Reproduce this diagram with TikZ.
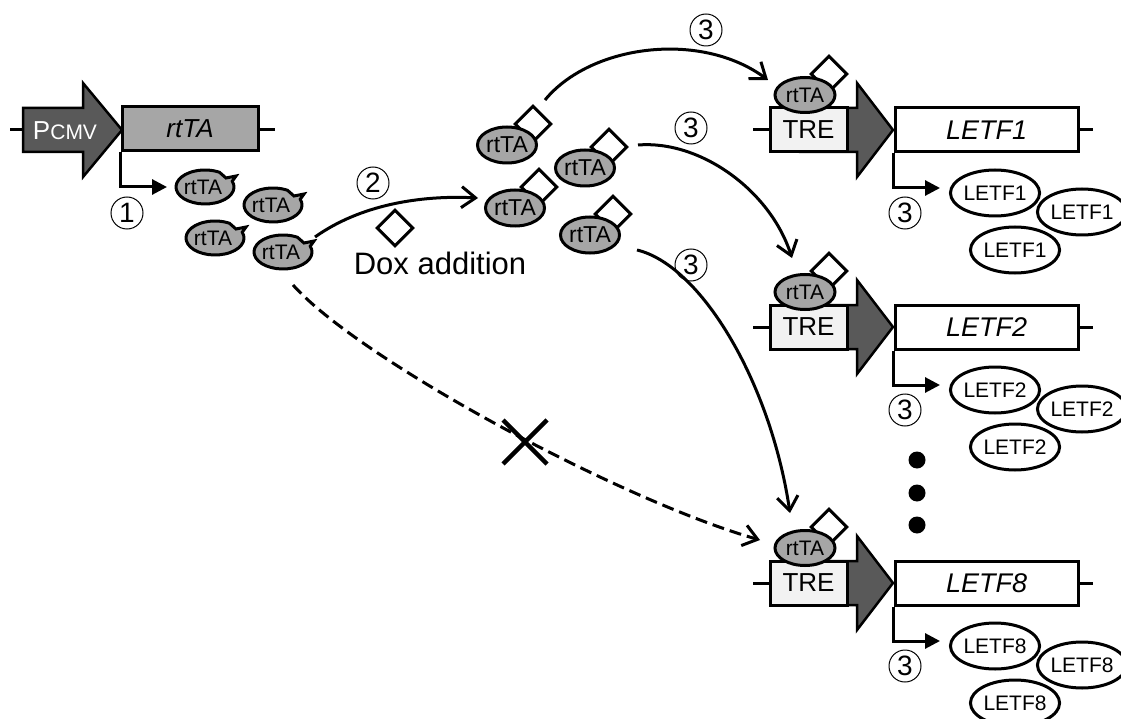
\documentclass[tikz,border=0pt]{standalone}
\usepackage{fontspec}
\setmainfont{Liberation Sans}
\usetikzlibrary{arrows.meta,shapes.geometric}
\definecolor{darkg}{HTML}{595959}
\definecolor{midg}{HTML}{A6A6A6}
\definecolor{lightg}{HTML}{F2F2F2}
\newcommand\fsz[1]{\fontsize{#1}{#1}\selectfont}
\tikzset{
  lw/.style={line width=3pt},
  genebox/.style={draw, line width=3pt, minimum width=183, minimum height=44, inner sep=0pt, fill=white, font=\fsz{27}\itshape},
  trebox/.style={draw, line width=3pt, minimum width=77, minimum height=44, inner sep=0pt, fill=lightg, font=\fsz{26}},
  darrow/.style={draw, line width=2.5pt, fill=darkg},
  boundrt/.style={ellipse, draw, line width=3pt, fill=midg, minimum width=60, minimum height=35, inner sep=0pt, font=\fsz{21}},
  freert/.style={ellipse, draw, line width=3pt, fill=midg, minimum width=58, minimum height=36, inner sep=0pt, font=\fsz{23}},
  doxsq/.style={rectangle, draw, line width=3pt, fill=white, minimum size=25, inner sep=0pt, rotate=45},
  letf/.style={ellipse, draw, line width=3pt, fill=white, minimum width=80, minimum height=46, inner sep=0pt, font=\fsz{21}},
  cnum/.style={circle, draw, line width=1pt, minimum size=32, inner sep=0pt, font=\fsz{28}},
  exarrow/.style={line width=3pt, -{Triangle[length=15pt,width=15pt]}},
  carrow/.style={line width=3pt, -{Straight Barb[length=14pt,width=21pt]}},
  rtlabel/.style={font=\fsz{21}, inner sep=0pt},
  dotnode/.style={circle, fill=black, minimum size=17, inner sep=0pt},
  notched/.pic={\draw[line width=3pt, fill=midg] (-20:29 and 17) arc[start angle=-20, end angle=300, x radius=29, y radius=17] -- (21,-9) -- (31,-11) -- cycle;},
}
\newcommand\tresec[3]{%
\begin{scope}[shift={(0,#2)}]
 \draw[lw] (753,0) -- (772,0);
 \draw[lw] (1076,0) -- (1093,0);
 \draw[darrow] (800,-22) -- (857,-22) -- (857,-47) -- (893,0) -- (857,47) -- (857,22) -- (800,22) -- cycle;
 \node[trebox] (tre#1) at (808.5,0) {TRE};
 \node[genebox] (gene#1) at (986.5,0) {#3};
 \node[doxsq] (dxb#1) at (829,-56) {};
 \node[boundrt] (rtb#1) at (805,-35) {rtTA};
 \coordinate (exend#1) at (940,58);
 \draw[exarrow] (gene#1.south west) |- (exend#1);
 \node[cnum] (num#1) at (905,83) {3};
 \node[letf] (la#1) at (995,63) {#3};
 \node[letf, minimum width=77] (lb#1) at (1082,82) {#3};
 \node[letf] (lc#1) at (1015,120) {#3};
\end{scope}}
\begin{document}
\begin{tikzpicture}[x=1pt,y=-1pt]
\useasboundingbox (0,0) rectangle (1121,719);
\clip (0,0) rectangle (1121,719);
\fill[white] (0,0) rectangle (1121,719);
% CMV / rtTA construct
\draw[lw] (10,130) -- (30,130);
\draw[darrow] (23,108) -- (83,108) -- (83,83) -- (122,130) -- (83,177) -- (83,152) -- (23,152) -- cycle;
\node[font=\fsz{26}, text=white, inner sep=0pt] (pcmv) at (65,131) {P\fsz{21}CMV};
\node[draw, lw, fill=midg, minimum width=136, minimum height=44, inner sep=0pt, font=\fsz{26}\itshape] (rtgene) at (190,129) {rtTA};
\draw[lw] (258,130) -- (275,130);
\coordinate (ex0end) at (167,187);
\draw[exarrow] (rtgene.south west) |- (ex0end);
\node[cnum] (n1) at (127,213) {1};
% free rtTA
\pic (p1) at (205,187) {notched}; \node[rtlabel] (f1) at (203,187) {rtTA};
\pic (p2) at (273,205) {notched}; \node[rtlabel] (f2) at (271,205) {rtTA};
\pic (p3) at (215,238) {notched}; \node[rtlabel] (f3) at (213,238) {rtTA};
\pic (p4) at (283,252) {notched}; \node[rtlabel] (f4) at (281,252) {rtTA};
% dox
\node[doxsq] (dox) at (395,228) {};
\node[font=\fsz{31}, inner sep=0pt] (doxlabel) at (440,263) {Dox addition};
\coordinate (a2s) at (315,237);
\coordinate (a2e) at (478,198);
\draw[carrow] (a2s) .. controls (360,205) and (420,195) .. (a2e);
\node[cnum] (n2) at (373,183) {2};
% rtTA-dox complexes
\node[doxsq] (dxa) at (533,124) {}; \node[freert] (ma) at (507,145) {rtTA};
\node[doxsq] (dxb) at (609,147) {}; \node[freert] (mb) at (585,168) {rtTA};
\node[doxsq] (dxc) at (539,187) {}; \node[freert] (mc) at (515,208) {rtTA};
\node[doxsq] (dxd) at (613,214) {}; \node[freert] (md) at (590,235) {rtTA};
% target sections
\tresec{1}{130}{LETF1}
\tresec{2}{327}{LETF2}
\tresec{8}{583}{LETF8}
% dots
\node[dotnode] (d1) at (917,460) {};
\node[dotnode] (d2) at (917,493) {};
\node[dotnode] (d3) at (917,525) {};
% arrows 3
\coordinate (a3as) at (545,100); \coordinate (a3ae) at (768,80);
\draw[carrow] (a3as) .. controls (590,45) and (700,30) .. (a3ae);
\node[cnum] (n3a) at (706,30) {3};
\coordinate (a3bs) at (638,145); \coordinate (a3be) at (792,258);
\draw[carrow] (a3bs) .. controls (700,140) and (770,190) .. (a3be);
\node[cnum] (n3b) at (691,128) {3};
\coordinate (a3cs) at (637,250); \coordinate (a3ce) at (790,513);
\draw[carrow] (a3cs) .. controls (700,265) and (770,380) .. (a3ce);
\node[cnum] (n3c) at (691,265) {3};
% blocked path
\coordinate (ds) at (293,285); \coordinate (de) at (760,540);
\draw[carrow, dash pattern=on 12pt off 6pt] (ds) .. controls (360,360) and (620,500) .. (de);
\coordinate (xm) at (525,442);
\draw[line width=4.5pt] (xm) +(-22,-22) -- +(22,22) (xm) +(22,-22) -- +(-22,22);
\end{tikzpicture}
\end{document}
